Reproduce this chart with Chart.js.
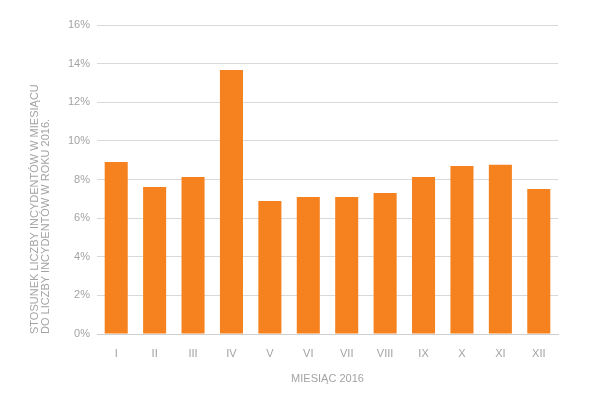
<!DOCTYPE html>
<html>
<head>
<meta charset="utf-8">
<script src="https://cdn.jsdelivr.net/npm/chart.js@4/dist/chart.umd.min.js"></script>
<style>
  html, body { margin: 0; padding: 0; background: #ffffff; }
  #wrap { width: 603px; height: 395px; position: relative; }
</style>
</head>
<body>
<div id="wrap"><canvas id="c" width="603" height="395"></canvas></div>
<script>
const months = ['I', 'II', 'III', 'IV', 'V', 'VI', 'VII', 'VIII', 'IX', 'X', 'XI', 'XII'];
const shares = [8.91, 7.61, 8.13, 13.67, 6.89, 7.10, 7.10, 7.30, 8.13, 8.70, 8.76, 7.51];
const yTicks = [0, 2, 4, 6, 8, 10, 12, 14, 16];
const yTitle = ['STOSUNEK LICZBY INCYDENTÓW W MIESIĄCU', 'DO LICZBY INCYDENTÓW W ROKU 2016.'];
const xTitle = 'MIESIĄC 2016';

const textGray = '#a3a3a3';
const fontFamily = '"Liberation Sans", Arial, sans-serif';

new Chart(document.getElementById('c'), {
  type: 'bar',
  data: {
    labels: months,
    datasets: [{
      data: shares,
      backgroundColor: '#F5821F',
      borderWidth: 0,
      barPercentage: 0.6,
      categoryPercentage: 1.0
    }]
  },
  options: {
    responsive: false,
    animation: false,
    devicePixelRatio: 1,
    layout: { padding: { top: 25, right: 45, bottom: 0, left: 0 } },
    plugins: { legend: { display: false }, tooltip: { enabled: false } },
    scales: {
      x: {
        grid: { display: false, drawTicks: false },
        border: { display: true, color: '#cfcfcf', width: 1 },
        ticks: { color: textGray, font: { family: fontFamily, size: 11 }, padding: 13, maxRotation: 0 },
        title: { display: true, text: xTitle, color: textGray, font: { family: fontFamily, size: 11 }, padding: { top: 0, bottom: 9 } },
        afterFit: (s) => { s.height = 61; }
      },
      y: {
        min: 0, max: 16,
        afterBuildTicks: (s) => { s.ticks = yTicks.map(v => ({ value: v })); },
        grid: { color: '#d9d9d9', lineWidth: 1, drawTicks: false },
        border: { display: false },
        ticks: { color: textGray, font: { family: fontFamily, size: 11 }, padding: 7, callback: (v) => v + '%' },
        title: { display: true, text: yTitle, align: 'start', color: textGray, font: { family: fontFamily, size: 11, lineHeight: '11.5px' }, padding: { top: 29, bottom: 0 } },
        afterFit: (s) => { s.width = 97; }
      }
    }
  }
});
</script>
</body>
</html>
